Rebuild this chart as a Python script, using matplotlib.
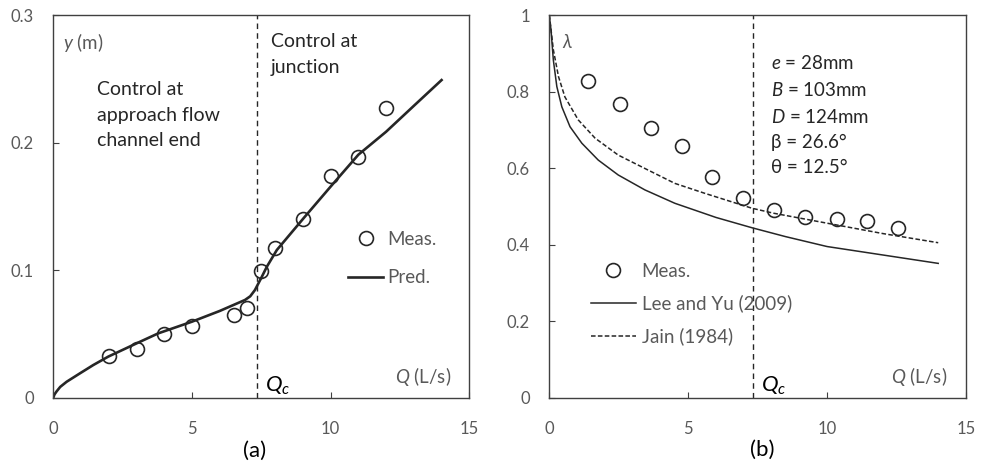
import matplotlib
matplotlib.use('Agg')
import matplotlib.pyplot as plt

plt.rcParams['font.family'] = ['Lato', 'DejaVu Sans']
plt.rcParams['mathtext.fontset'] = 'custom'
plt.rcParams['mathtext.rm'] = 'Lato'
plt.rcParams['mathtext.it'] = 'Lato:italic'

# (a) flow depth
q_meas_a = [2, 3, 4, 5, 6.5, 7, 7.5, 8, 9, 10, 11, 12]
y_meas = [0.033, 0.038, 0.050, 0.056, 0.065, 0.070, 0.099, 0.117, 0.140, 0.174, 0.189, 0.227]
q_pred = [0, 0.04, 0.12, 0.25, 0.48, 0.96, 1.44, 1.98, 3.13, 3.79, 5.0, 6.0, 6.91, 7.1, 7.27, 7.5,
          7.7, 8.06, 9.02, 10, 11, 12, 13, 14]
y_pred = [0, 0.0025, 0.0050, 0.0085, 0.0125, 0.0191, 0.0256, 0.0322, 0.0439, 0.0505, 0.0596, 0.068,
          0.0766, 0.0795, 0.0844, 0.094, 0.1027, 0.1158, 0.1406, 0.1655, 0.1905, 0.2085, 0.2288, 0.249]

# (b) lambda
q_meas_b = [1.40, 2.56, 3.66, 4.79, 5.87, 6.98, 8.08, 9.20, 10.36, 11.44, 12.54]
lam_meas = [0.828, 0.767, 0.706, 0.658, 0.578, 0.522, 0.490, 0.471, 0.468, 0.461, 0.443]
q_lee = [0, 0.02, 0.06, 0.145, 0.27, 0.45, 0.745, 1.17, 1.76, 2.48, 3.44, 4.52, 6.0, 7.3, 8.5,
         10, 12, 14]
lam_lee = [1.0, 0.985, 0.961, 0.882, 0.813, 0.760, 0.708, 0.665, 0.621, 0.582, 0.543, 0.508,
           0.471, 0.444, 0.421, 0.395, 0.373, 0.351]
q_jain = [0, 0.02, 0.06, 0.145, 0.33, 0.56, 1.04, 1.65, 2.48, 3.44, 4.52, 5.6, 7.3, 8.08, 10,
          12, 14]
lam_jain = [1.0, 0.988, 0.962, 0.909, 0.839, 0.786, 0.726, 0.678, 0.634, 0.599, 0.560, 0.534,
            0.495, 0.482, 0.456, 0.429, 0.405]

Qc = 7.33
grey = '#595959'
dark = '#262626'

fig = plt.figure(figsize=(9.82, 4.72), dpi=100)
ax1 = fig.add_axes([0.0543, 0.1574, 0.4236, 0.8108])
ax2 = fig.add_axes([0.5594, 0.1574, 0.4243, 0.8108])

for ax in (ax1, ax2):
    ax.set_xlim(0, 15)
    ax.set_xticks([0, 5, 10, 15])
    ax.tick_params(direction='in', length=4, width=0.8, color='#404040',
                   labelsize=12, labelcolor=grey)
    ax.tick_params(axis='x', pad=17)
    ax.tick_params(axis='y', pad=14)
    for s in ax.spines.values():
        s.set_color('#404040')
        s.set_linewidth(1.0)
    ax.axvline(Qc, color=dark, ls=(0, (4, 3)), lw=1.0)
    ax.text(Qc + 0.3, 0.032, '$Q_c$', transform=ax.get_xaxis_transform(),
            fontsize=16, color='black', va='center', ha='left')
    ax.text(0.956, 0.055, '$Q$ (L/s)', transform=ax.transAxes, fontsize=13.5,
            color=grey, ha='right', va='center')

# ---- (a)
ax1.set_ylim(0, 0.3)
ax1.set_yticks([0, 0.1, 0.2, 0.3])
ax1.set_yticklabels(['0', '0.1', '0.2', '0.3'])
ax1.plot(q_meas_a, y_meas, 'o', ms=10, mfc='none', mec=dark, mew=1.2, label='Meas.')
ax1.plot(q_pred, y_pred, '-', color=dark, lw=1.9, label='Pred.')
ax1.legend(loc='upper left', bbox_to_anchor=(0.708, 0.436), frameon=False, fontsize=13.5,
           handlelength=1.9, handletextpad=0.2, labelspacing=1.15, borderpad=0,
           borderaxespad=0, numpoints=1, labelcolor=grey)
ax1.text(0.024, 0.927, '$y$ (m)', transform=ax1.transAxes, fontsize=13.5, color=grey, va='center')
ax1.text(0.5226, 0.952, 'Control at\njunction', transform=ax1.transAxes, fontsize=14,
         color=dark, va='top', linespacing=1.6)
ax1.text(0.105, 0.827, 'Control at\napproach flow\nchannel end', transform=ax1.transAxes,
         fontsize=14, color=dark, va='top', linespacing=1.6)
ax1.text(0.483, -0.14, '(a)', transform=ax1.transAxes, fontsize=16, ha='center', va='center')

# ---- (b)
ax2.set_ylim(0, 1)
ax2.set_yticks([0, 0.2, 0.4, 0.6, 0.8, 1])
ax2.set_yticklabels(['0', '0.2', '0.4', '0.6', '0.8', '1'])
ax2.plot(q_meas_b, lam_meas, 'o', ms=10, mfc='none', mec=dark, mew=1.2, label='Meas.')
ax2.plot(q_lee, lam_lee, '-', color=dark, lw=1.1, label='Lee and Yu (2009)')
ax2.plot(q_jain, lam_jain, ls=(0, (3, 1.5)), color=dark, lw=1.1, label='Jain (1984)')
ax2.legend(loc='upper left', bbox_to_anchor=(0.100, 0.353), frameon=False, fontsize=13.5,
           handlelength=2.4, handletextpad=0.3, labelspacing=0.8, borderpad=0,
           borderaxespad=0, numpoints=1, labelcolor=grey)
ax2.text(0.03, 0.927, 'λ', transform=ax2.transAxes, fontsize=13.5, color=grey,
         style='italic', va='center')
ax2.text(0.532, 0.897,
         '$e$ = 28mm\n$B$ = 103mm\n$D$ = 124mm\nβ = 26.6°\nθ = 12.5°',
         transform=ax2.transAxes, fontsize=13.5, color=dark, va='top', linespacing=1.57)
ax2.text(0.512, -0.137, '(b)', transform=ax2.transAxes, fontsize=16, ha='center', va='center')

fig.savefig('out.png', dpi=100)
